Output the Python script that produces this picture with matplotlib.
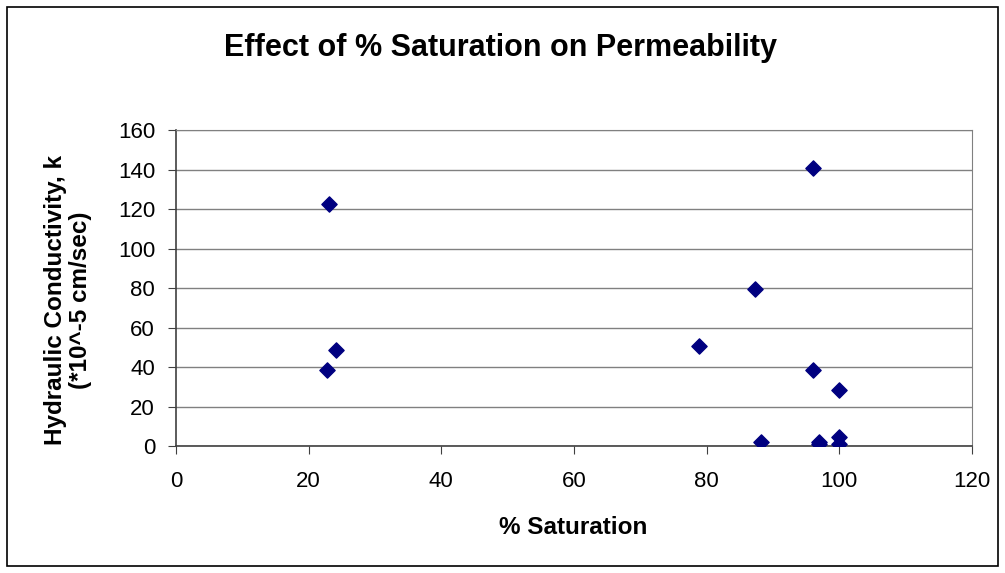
import matplotlib.pyplot as plt
from matplotlib.patches import Rectangle

plt.rcParams['font.family'] = ['Liberation Sans', 'DejaVu Sans']

# % saturation vs hydraulic conductivity (*10^-5 cm/sec)
saturation = [23.1, 22.8, 24.1, 78.8, 87.3, 96.0, 96.0, 88.2, 96.9, 96.9, 99.9, 99.9, 99.9]
conductivity = [122.5, 38.5, 48.6, 50.6, 79.5, 140.8, 38.5, 2.2, 1.9, 0.8, 28.4, 4.7, 1.0]

xticks = [0, 20, 40, 60, 80, 100, 120]
yticks = [0, 20, 40, 60, 80, 100, 120, 140, 160]

fig = plt.figure(figsize=(10.05, 5.73), dpi=100)
ax = fig.add_axes([0.175, 0.2216, 0.792, 0.5515])

fig.patches.append(Rectangle((7 / 1005, 7 / 573), 991 / 1005, 559 / 573,
                             transform=fig.transFigure, fill=False,
                             edgecolor='black', linewidth=1.2))

ax.scatter(saturation, conductivity, marker='D', s=60, color='#000080', zorder=3)

ax.set_xlim(0, 120)
ax.set_ylim(0, 160)
ax.set_xticks(xticks)
ax.set_yticks(yticks)
ax.yaxis.grid(True, color='#808080', linewidth=1)
ax.set_axisbelow(True)

for side in ['top', 'right']:
    ax.spines[side].set_color('#808080')
for side in ['left', 'bottom']:
    ax.spines[side].set_color('#404040')
    ax.spines[side].set_linewidth(1.2)

ax.tick_params(direction='out', length=6, labelsize=16, color='#404040')
ax.tick_params(axis='x', pad=12)
ax.tick_params(axis='y', pad=9)

fig.text(500 / 1005, 1 - 48 / 573, 'Effect of % Saturation on Permeability',
         fontsize=22, fontweight='bold', ha='center', va='center')
fig.text(573 / 1005, 1 - 527 / 573, '% Saturation',
         fontsize=17.5, fontweight='bold', ha='center', va='center')
fig.text(68 / 1005, 1 - 300 / 573, 'Hydraulic Conductivity, k\n(*10^-5 cm/sec)',
         fontsize=17.5, fontweight='bold', ha='center', va='center',
         rotation=90, multialignment='center', linespacing=1.1)

fig.savefig('out.png', dpi=100)
